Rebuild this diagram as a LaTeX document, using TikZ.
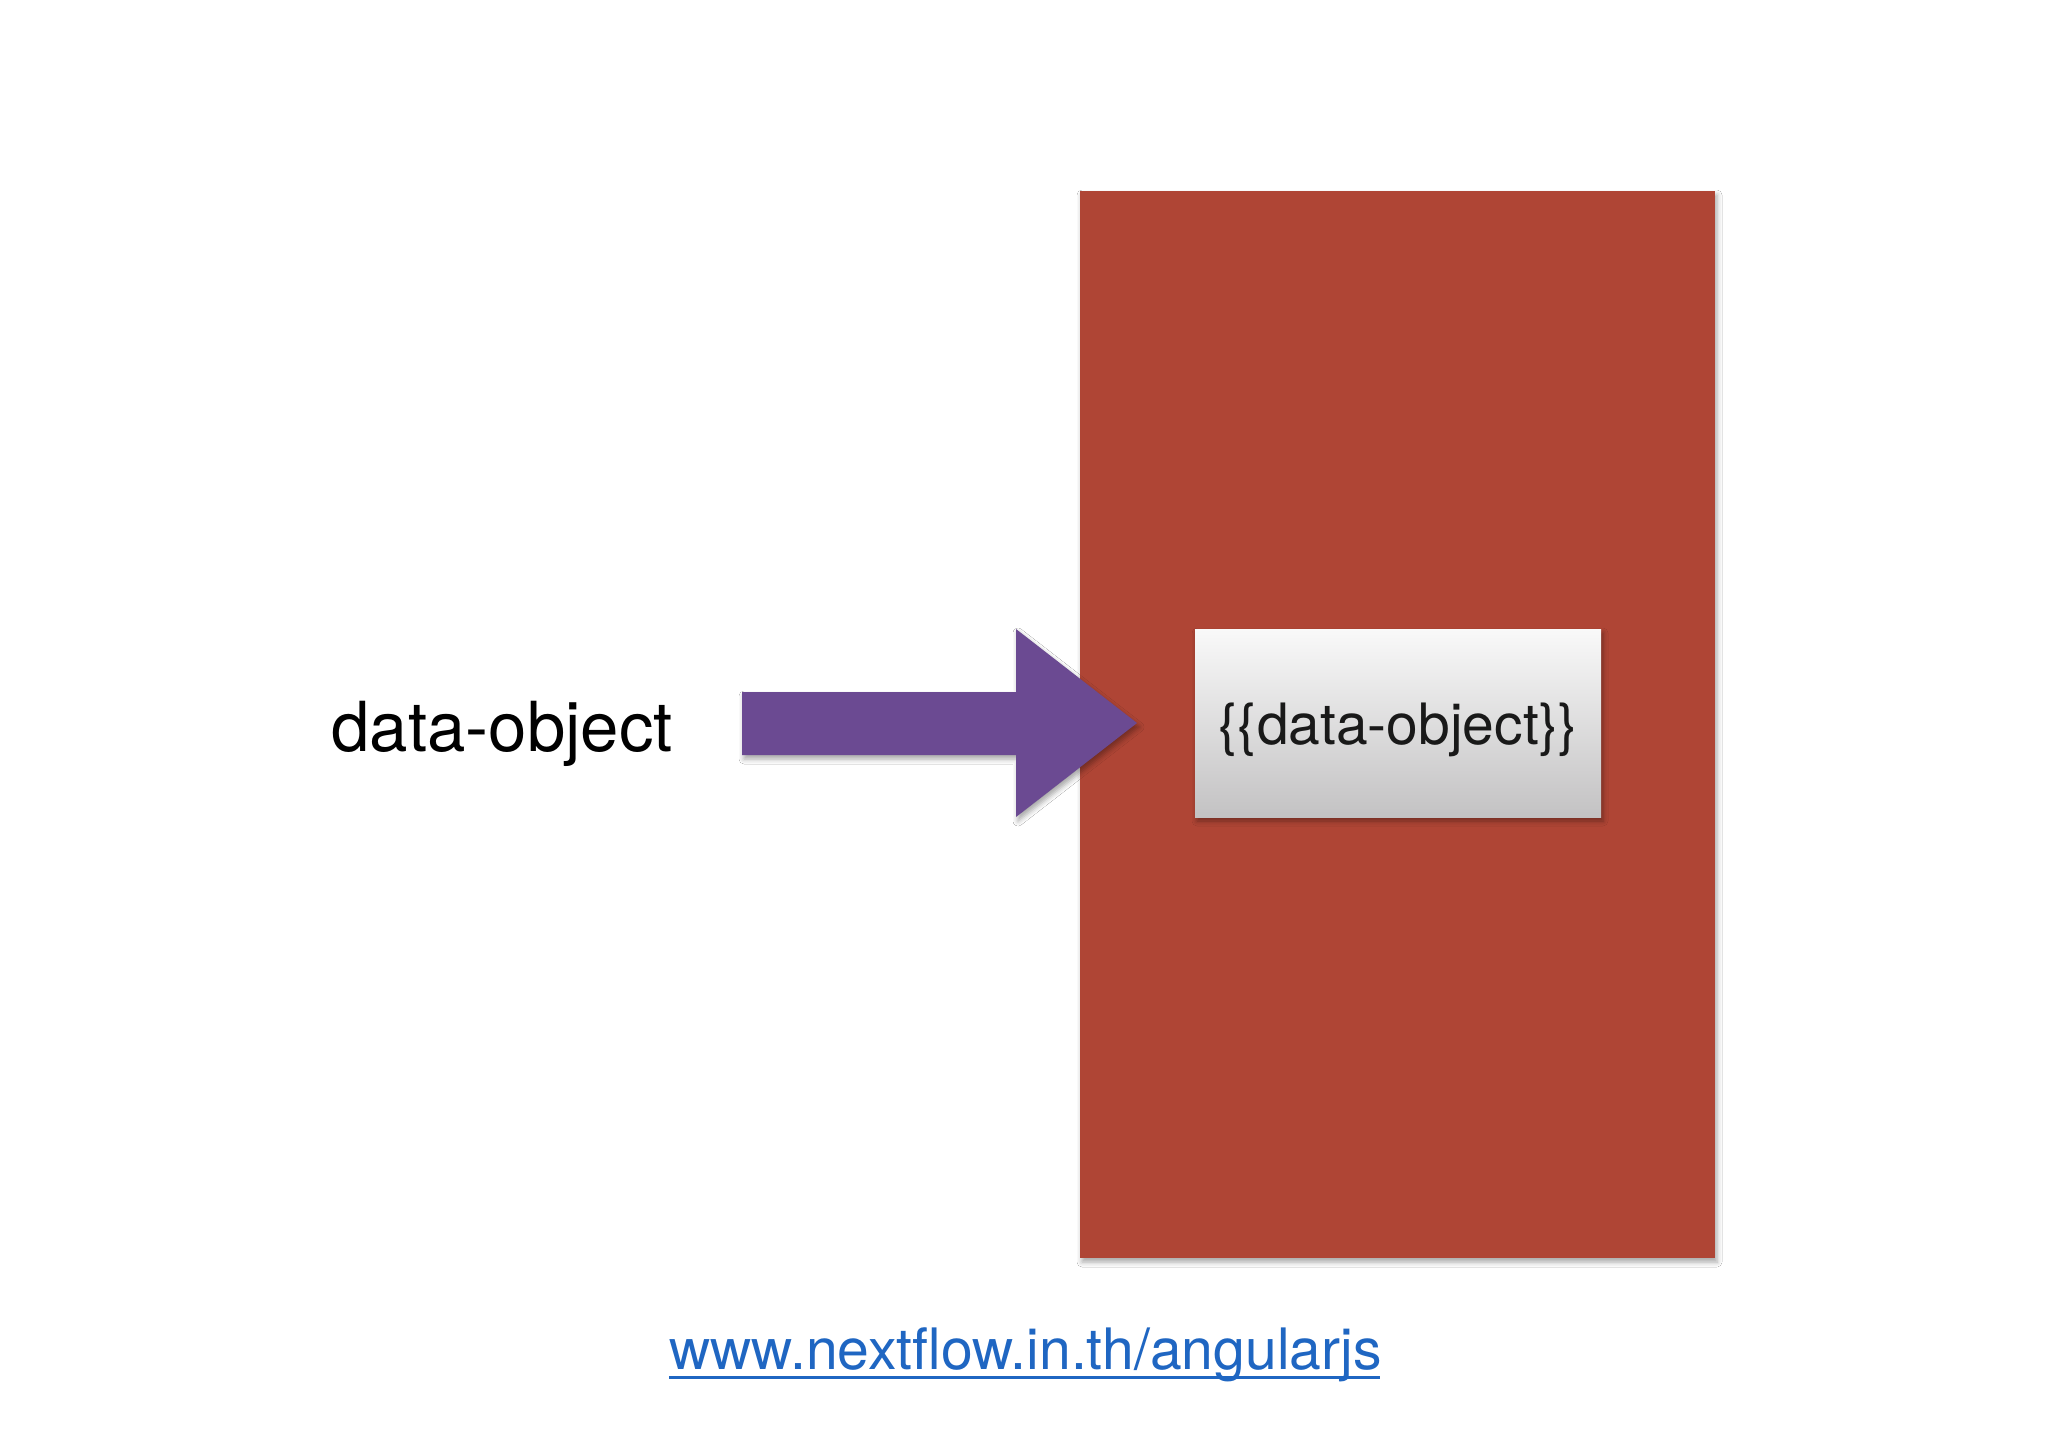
\documentclass[tikz,border=0pt]{standalone}
\usepackage{fontspec}
\setmainfont{TeX Gyre Heros}
\usetikzlibrary{shadows.blur}
\definecolor{paperred}{HTML}{AF4535}
\definecolor{arrowpurple}{HTML}{6B4A92}
\definecolor{linkblue}{HTML}{1F66C2}
\definecolor{boxtop}{HTML}{F9F9F9}
\definecolor{boxbot}{HTML}{C3C2C3}
\tikzset{
  softshadow/.style={blur shadow={shadow xshift=1pt,shadow yshift=-2pt,shadow blur radius=2.5pt,shadow opacity=35}},
  label36/.style={inner sep=0pt,font=\fontsize{34.5}{40}\selectfont,text=black},
  label28/.style={inner sep=0pt,font=\fontsize{28.5}{34}\selectfont,text=black!90},
  linktext/.style={inner sep=0pt,font=\fontsize{28.55}{34}\selectfont,text=linkblue}
}
\begin{document}
\begin{tikzpicture}[x=0.5pt,y=-0.5pt]
\useasboundingbox[fill=white] (0,0) rectangle (2048,1448);
% red paper panel
\path[fill=paperred,softshadow] (1080,191) rectangle (1715,1258);
\coordinate (panelNW) at (1080,191);
% white box
\path[top color=boxtop,bottom color=boxbot,softshadow] (1195,629) rectangle (1601,817);
\node[label28,anchor=base] (inner) at (1398,744) {\{\{data-object\}\}};
% purple arrow
\path[fill=arrowpurple,softshadow] (742,692) -- (1016,692) -- (1016,629) -- (1137,723) -- (1016,817) -- (1016,755) -- (742,755) -- cycle;
\coordinate (tip) at (1137,723);
% left label
\node[label36,anchor=base west] (data) at (331,751) {data-object};
% url
\node[linktext,anchor=base west] (url) at (669,1369) {www.nextflow.in.th/angularjs};
\coordinate (ulA) at (669,1377);
\coordinate (ulB) at (1380,1377);
\draw[linkblue,line width=1.5pt] (ulA) -- (ulB);
\end{tikzpicture}
\end{document}
